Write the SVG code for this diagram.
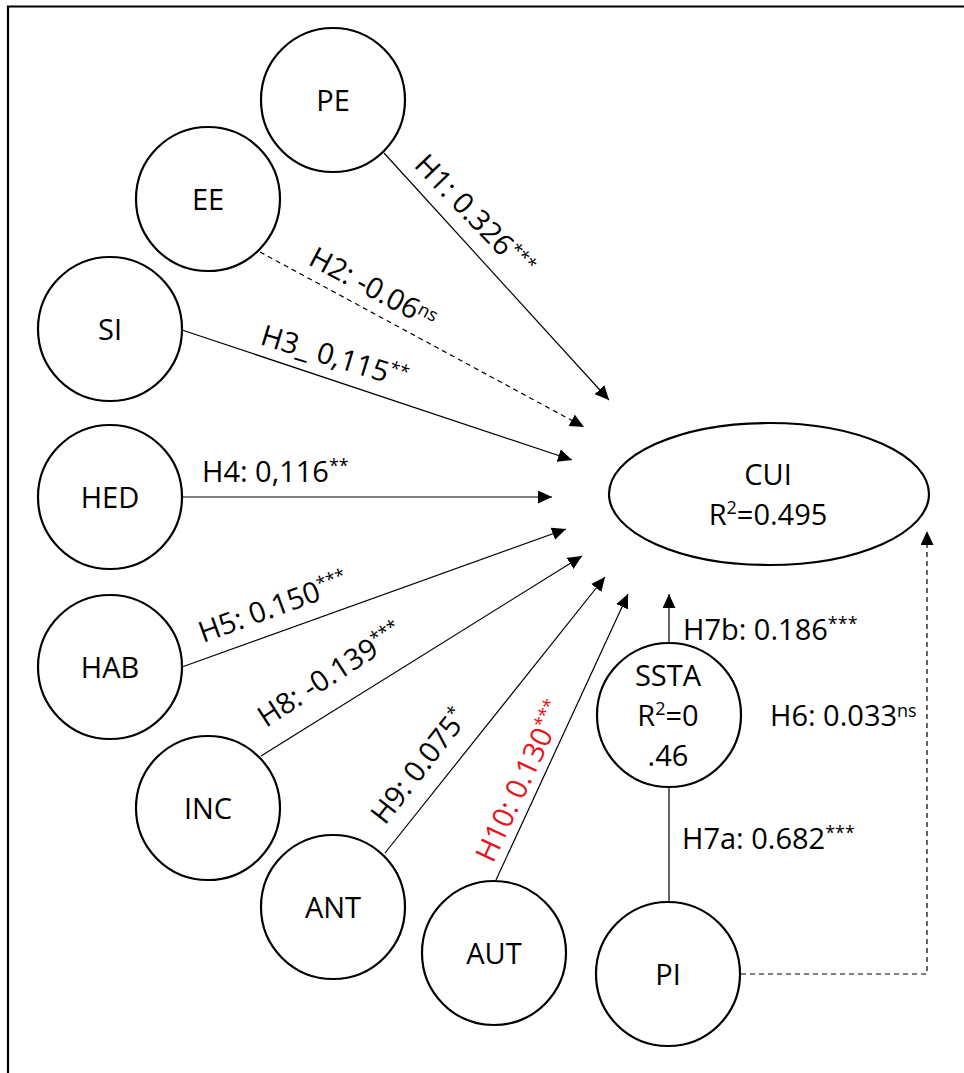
<svg xmlns="http://www.w3.org/2000/svg" width="964" height="1073" viewBox="0 0 964 1073">
  <style>
    .node { fill: #ffffff; stroke: #000000; stroke-width: 2.2; }
    .name { font-family: "Open Sans", "DejaVu Sans", sans-serif; font-size: 29px; fill: #000000; text-anchor: middle; }
    .lbl { font-family: "Open Sans", "DejaVu Sans", sans-serif; font-size: 29px; fill: #000000; }
    .red { fill: #e8141b; }
    .sup { font-size: 18px; }
    .edge { fill: none; stroke: #000000; stroke-width: 1.2; }
    .dash { stroke-dasharray: 5 4; }
  </style>
  <defs>
    <marker id="arrow" markerUnits="userSpaceOnUse" markerWidth="14" markerHeight="13" refX="14" refY="6.5" orient="auto">
      <path d="M0,0 L14,6.5 L0,13 Z" fill="#000000"/>
    </marker>
  </defs>

  <rect width="964" height="1073" fill="#ffffff"/>
  <!-- outer frame -->
  <path d="M8,1073 L8,6.5 L964,6.5" fill="none" stroke="#000000" stroke-width="2.2"/>

  <!-- connectors -->
  <g id="connectors">
    <line class="edge" x1="384" y1="153" x2="609" y2="400" marker-end="url(#arrow)"/>
    <line class="edge dash" x1="260" y1="252" x2="584" y2="427" marker-end="url(#arrow)"/>
    <line class="edge" x1="182" y1="330" x2="572" y2="460" marker-end="url(#arrow)"/>
    <line class="edge" x1="182" y1="497" x2="552" y2="497" marker-end="url(#arrow)"/>
    <line class="edge" x1="182" y1="667" x2="566" y2="529" marker-end="url(#arrow)"/>
    <line class="edge" x1="261" y1="756" x2="582" y2="556" marker-end="url(#arrow)"/>
    <line class="edge" x1="385" y1="853" x2="605" y2="577" marker-end="url(#arrow)"/>
    <line class="edge" x1="496" y1="880" x2="628" y2="594" marker-end="url(#arrow)"/>
    <line class="edge" x1="669" y1="643" x2="669" y2="594" marker-end="url(#arrow)"/>
    <line class="edge" x1="669" y1="787" x2="669" y2="902"/>
    <polyline class="edge dash" points="741,974 927,974 927,531" marker-end="url(#arrow)"/>

    <!-- path coefficients -->
    <text class="lbl" transform="translate(413,166) rotate(46)">H1: 0.326<tspan class="sup" dy="-10">***</tspan></text>
    <text class="lbl" transform="translate(307,264) rotate(28)">H2: -0.06<tspan class="sup" dy="-8">ns</tspan></text>
    <text class="lbl" transform="translate(259,344) rotate(17)">H3_ 0,115<tspan class="sup" dy="-10">**</tspan></text>
    <text class="lbl" x="202" y="482">H4: 0,116<tspan class="sup" dy="-10">**</tspan></text>
    <text class="lbl" transform="translate(203,643) rotate(-20)">H5: 0.150<tspan class="sup" dy="-10">***</tspan></text>
    <text class="lbl" transform="translate(266,728) rotate(-33)">H8: -0.139<tspan class="sup" dy="-10">***</tspan></text>
    <text class="lbl" transform="translate(385,826) rotate(-52)">H9: 0.075<tspan class="sup" dy="-10">*</tspan></text>
    <text class="lbl red" transform="translate(493,864) rotate(-65)">H10: 0.130<tspan class="sup" dy="-10">***</tspan></text>
    <text class="lbl" x="683" y="640">H7b: 0.186<tspan class="sup" dy="-10">***</tspan></text>
    <text class="lbl" x="770" y="726">H6: 0.033<tspan class="sup" dy="-9">ns</tspan></text>
    <text class="lbl" x="682" y="849">H7a: 0.682<tspan class="sup" dy="-10">***</tspan></text>
  </g>

  <!-- constructs -->
  <g id="PE"><circle class="node" cx="333" cy="100" r="72"/><text class="name" x="333" y="111">PE</text></g>
  <g id="EE"><circle class="node" cx="208" cy="199" r="72"/><text class="name" x="208" y="210">EE</text></g>
  <g id="SI"><circle class="node" cx="110" cy="329" r="72"/><text class="name" x="110" y="340">SI</text></g>
  <g id="HED"><circle class="node" cx="110" cy="497" r="72"/><text class="name" x="110" y="508">HED</text></g>
  <g id="HAB"><circle class="node" cx="110" cy="667" r="72"/><text class="name" x="110" y="678">HAB</text></g>
  <g id="INC"><circle class="node" cx="208" cy="808" r="72"/><text class="name" x="208" y="819">INC</text></g>
  <g id="ANT"><circle class="node" cx="333" cy="907" r="72"/><text class="name" x="333" y="918">ANT</text></g>
  <g id="AUT"><circle class="node" cx="494" cy="953" r="72"/><text class="name" x="494" y="964">AUT</text></g>
  <g id="PI"><circle class="node" cx="668" cy="974" r="72"/><text class="name" x="668" y="985">PI</text></g>
  <g id="SSTA">
    <circle class="node" cx="669" cy="715" r="72"/>
    <text class="name" x="668" y="686">SSTA</text>
    <text class="name" x="668" y="726">R<tspan class="sup" dy="-11">2</tspan><tspan dy="11">=0</tspan></text>
    <text class="name" x="668" y="766">.46</text>
  </g>
  <g id="CUI">
    <ellipse class="node" cx="769" cy="494" rx="160" ry="71"/>
    <text class="name" x="768" y="485">CUI</text>
    <text class="name" x="768" y="525">R<tspan class="sup" dy="-11">2</tspan><tspan dy="11">=0.495</tspan></text>
  </g>
</svg>
